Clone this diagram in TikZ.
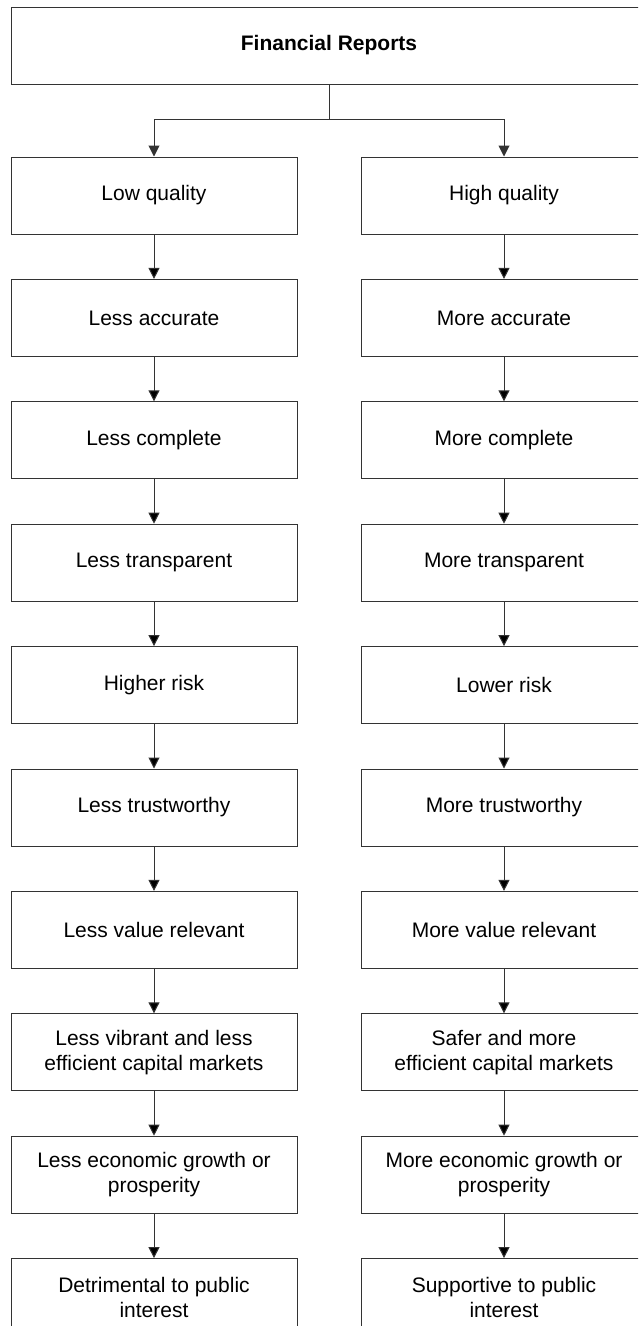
\documentclass[tikz,border=0pt]{standalone}
\usepackage{fontspec}
\setmainfont{Liberation Sans}
\usetikzlibrary{positioning,arrows.meta}

\tikzset{
  box/.style={draw=black!80, line width=1pt, minimum width=286pt, minimum height=77pt,
    align=center, inner sep=0pt, font=\fontsize{21}{25}\selectfont},
  flow/.style={draw=black!80, line width=1pt, -{Triangle[width=11pt,length=11pt]}}
}

\begin{document}
\begin{tikzpicture}[x=1pt,y=-1pt,node distance=44.4pt]
\clip (0,0) rectangle (638,1326);
\node[box, minimum width=636pt, font=\fontsize{21}{25}\selectfont\bfseries] (fr) at (329,45.5) {Financial Reports};
\node[box] (l1) at (154,195.5) {Low quality};
\node[box, below=of l1] (l2) {Less accurate};
\node[box, below=of l2] (l3) {Less complete};
\node[box, below=of l3] (l4) {Less transparent};
\node[box, below=of l4] (l5) {Higher risk};
\node[box, below=of l5] (l6) {Less trustworthy};
\node[box, below=of l6] (l7) {Less value relevant};
\node[box, below=of l7] (l8) {Less vibrant and less\\efficient capital markets};
\node[box, below=of l8] (l9) {Less economic growth or\\prosperity};
\node[box, below=of l9] (l10) {Detrimental to public\\interest};
\node[box] (r1) at (504,195.5) {High quality};
\node[box, below=of r1] (r2) {More accurate};
\node[box, below=of r2] (r3) {More complete};
\node[box, below=of r3] (r4) {More transparent};
\node[box, below=of r4] (r5) {Lower risk};
\node[box, below=of r5] (r6) {More trustworthy};
\node[box, below=of r6] (r7) {More value relevant};
\node[box, below=of r7] (r8) {Safer and more\\efficient capital markets};
\node[box, below=of r8] (r9) {More economic growth or\\prosperity};
\node[box, below=of r9] (r10) {Supportive to public\\interest};
\draw[draw=black!80, line width=1pt] (fr.south) -- ++(0,35) coordinate (split);
\draw[flow] (split) -| (l1.north);
\draw[flow] (split) -| (r1.north);
\draw[flow]
(l1) edge (l2) (l2) edge (l3) (l3) edge (l4)
(l4) edge (l5) (l5) edge (l6) (l6) edge (l7)
(l7) edge (l8) (l8) edge (l9) (l9) edge (l10)
(r1) edge (r2) (r2) edge (r3) (r3) edge (r4)
(r4) edge (r5) (r5) edge (r6) (r6) edge (r7)
(r7) edge (r8) (r8) edge (r9) (r9) edge (r10);
\end{tikzpicture}
\end{document}
